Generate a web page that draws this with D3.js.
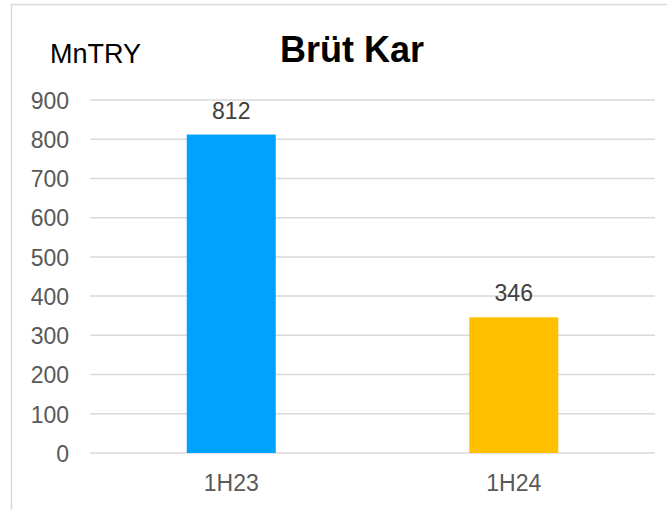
<!DOCTYPE html>
<html>
<head>
<meta charset="utf-8">
<script src="https://cdn.jsdelivr.net/npm/d3@7"></script>
<style>
  body { margin: 0; background: #fff; }
  svg { font-family: "Liberation Sans", Arial, sans-serif; }
</style>
</head>
<body>
<div id="chart"></div>
<script>
const categories = ["1H23", "1H24"];
const values = [812, 346];
const barColors = ["#00A2FF", "#FFC000"];
const yTicks = [0, 100, 200, 300, 400, 500, 600, 700, 800, 900];

const W = 667, H = 510;
const margin = { top: 100, right: 12, bottom: 57, left: 90 };
const width = W - margin.left - margin.right;
const height = H - margin.top - margin.bottom;

const svg = d3.select("#chart").append("svg")
    .attr("width", W)
    .attr("height", H);

// outer frame (only top and left edges visible)
svg.append("rect")
    .attr("x", 11.5).attr("y", 4.5)
    .attr("width", 700).attr("height", 600)
    .attr("fill", "none")
    .attr("stroke", "#d9d9d9")
    .attr("stroke-width", 1.5);

const g = svg.append("g")
    .attr("transform", `translate(${margin.left}, ${margin.top})`);

const x = d3.scaleBand()
    .domain(categories)
    .range([0, width])
    .paddingInner(0.685)
    .paddingOuter(0.3425);

const y = d3.scaleLinear()
    .domain([0, 900])
    .range([height, 0]);

// gridlines
g.selectAll(".grid")
    .data(yTicks)
    .join("line")
    .attr("x1", 0).attr("x2", width)
    .attr("y1", d => y(d)).attr("y2", d => y(d))
    .attr("stroke", "#d9d9d9")
    .attr("stroke-width", 1.5);

// y axis labels
const yAxis = g.append("g")
    .call(d3.axisLeft(y).tickValues(yTicks).tickSize(0).tickPadding(21));
yAxis.select(".domain").remove();
yAxis.selectAll("text")
    .attr("fill", "#595959")
    .attr("dy", "0.36em")
    .style("font-size", "23px");

// x axis labels
const xAxis = g.append("g")
    .attr("transform", `translate(0, ${height})`)
    .call(d3.axisBottom(x).tickSize(0).tickPadding(22));
xAxis.select(".domain").remove();
xAxis.selectAll("text")
    .attr("fill", "#595959")
    .style("font-size", "23px");

// bars
g.selectAll(".bar")
    .data(values)
    .join("rect")
    .attr("x", (d, i) => x(categories[i]))
    .attr("y", d => y(d))
    .attr("width", x.bandwidth())
    .attr("height", d => height - y(d))
    .attr("fill", (d, i) => barColors[i]);

// value labels
g.selectAll(".val")
    .data(values)
    .join("text")
    .attr("x", (d, i) => x(categories[i]) + x.bandwidth() / 2)
    .attr("y", d => y(d) - 16)
    .attr("text-anchor", "middle")
    .attr("fill", "#404040")
    .style("font-size", "23px")
    .text(d => d);

// unit label and title
svg.append("text")
    .attr("x", 50).attr("y", 63)
    .attr("fill", "#000")
    .style("font-size", "27px")
    .text("MnTRY");

svg.append("text")
    .attr("x", 352).attr("y", 62)
    .attr("text-anchor", "middle")
    .attr("fill", "#000")
    .style("font-size", "36px")
    .style("font-weight", "bold")
    .text("Brüt Kar");
</script>
</body>
</html>
